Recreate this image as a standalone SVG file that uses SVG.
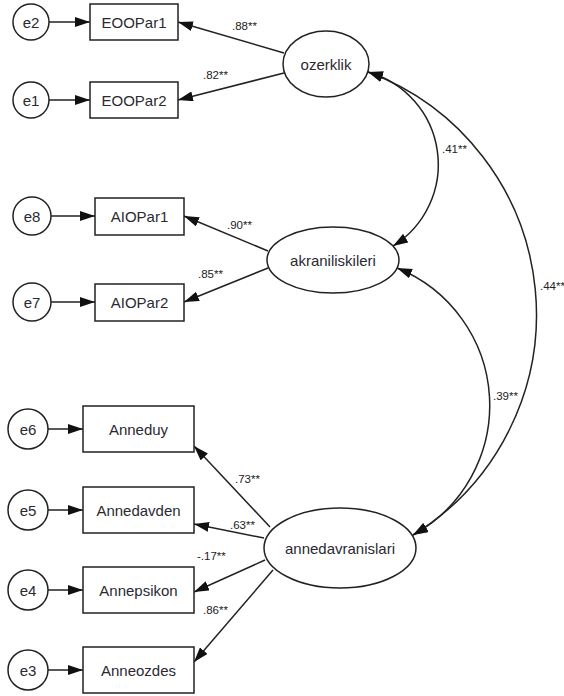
<svg xmlns="http://www.w3.org/2000/svg" width="564" height="696" viewBox="0 0 564 696">
<style>
.box{fill:#fff;stroke:#222;stroke-width:1.5}
.lat{fill:#fff;stroke:#222;stroke-width:1.5}
.t{font-family:"Liberation Sans",Arial,sans-serif;font-size:15px;fill:#2a2a33;text-anchor:middle;dominant-baseline:central}
.lbl{font-family:"Liberation Sans",Arial,sans-serif;font-size:11.5px;fill:#222}
.c{fill:none;stroke:#222;stroke-width:1.5}
</style>
<defs>
<marker id="ah" viewBox="0 0 15 10" refX="15" refY="5" markerWidth="15" markerHeight="10" markerUnits="userSpaceOnUse" orient="auto-start-reverse">
<path d="M0,0 L15,5 L0,10 z" fill="#111"/>
</marker>
</defs>
<rect width="564" height="696" fill="#fff"/>
<g id="connectors">
<line class="c" x1="49" y1="22" x2="90" y2="22" marker-end="url(#ah)"/>
<line class="c" x1="49" y1="100" x2="90" y2="100" marker-end="url(#ah)"/>
<line class="c" x1="51" y1="216" x2="95" y2="216" marker-end="url(#ah)"/>
<line class="c" x1="51" y1="302" x2="95" y2="302" marker-end="url(#ah)"/>
<line class="c" x1="48" y1="429" x2="83" y2="429" marker-end="url(#ah)"/>
<line class="c" x1="48" y1="510" x2="83" y2="510" marker-end="url(#ah)"/>
<line class="c" x1="48" y1="590" x2="83" y2="590" marker-end="url(#ah)"/>
<line class="c" x1="48" y1="670" x2="83" y2="670" marker-end="url(#ah)"/>
<line class="c" x1="284" y1="53" x2="178" y2="22" marker-end="url(#ah)"/>
<line class="c" x1="284" y1="73" x2="178" y2="100" marker-end="url(#ah)"/>
<line class="c" x1="268" y1="251" x2="184" y2="216" marker-end="url(#ah)"/>
<line class="c" x1="268" y1="268" x2="184" y2="302" marker-end="url(#ah)"/>
<line class="c" x1="270" y1="527" x2="194" y2="446" marker-end="url(#ah)"/>
<line class="c" x1="264" y1="538" x2="194" y2="524" marker-end="url(#ah)"/>
<line class="c" x1="265" y1="560" x2="194" y2="592" marker-end="url(#ah)"/>
<line class="c" x1="273" y1="570" x2="194" y2="662" marker-end="url(#ah)"/>
<path class="c" d="M368,72 A96,96 0 0 1 393,246" marker-start="url(#ah)" marker-end="url(#ah)"/>
<path class="c" d="M368,72 A258.7,258.7 0 0 1 413,535" marker-start="url(#ah)" marker-end="url(#ah)"/>
<path class="c" d="M397,268 A148,148 0 0 1 413,535" marker-start="url(#ah)" marker-end="url(#ah)"/>
<text class="lbl" x="232" y="30">.88**</text>
<text class="lbl" x="203" y="79">.82**</text>
<text class="lbl" x="227" y="229">.90**</text>
<text class="lbl" x="198" y="278">.85**</text>
<text class="lbl" x="442" y="153">.41**</text>
<text class="lbl" x="540" y="290">.44**</text>
<text class="lbl" x="493" y="400">.39**</text>
<text class="lbl" x="235" y="483">.73**</text>
<text class="lbl" x="230" y="529">.63**</text>
<text class="lbl" x="197" y="560">-.17**</text>
<text class="lbl" x="203" y="614">.86**</text>
</g>
<g id="e2"><circle class="lat" cx="31" cy="22" r="18"/><text class="t" x="31" y="22">e2</text></g>
<g id="e1"><circle class="lat" cx="31" cy="100" r="18"/><text class="t" x="31" y="100">e1</text></g>
<g id="e8"><circle class="lat" cx="32" cy="216" r="19"/><text class="t" x="32" y="216">e8</text></g>
<g id="e7"><circle class="lat" cx="32" cy="302" r="19"/><text class="t" x="32" y="302">e7</text></g>
<g id="e6"><circle class="lat" cx="28" cy="429" r="20"/><text class="t" x="28" y="429">e6</text></g>
<g id="e5"><circle class="lat" cx="28" cy="510" r="20"/><text class="t" x="28" y="510">e5</text></g>
<g id="e4"><circle class="lat" cx="28" cy="590" r="20"/><text class="t" x="28" y="590">e4</text></g>
<g id="e3"><circle class="lat" cx="28" cy="670" r="20"/><text class="t" x="28" y="670">e3</text></g>
<g id="EOOPar1"><rect class="box" x="90" y="4" width="88" height="36"/><text class="t" x="134" y="22">EOOPar1</text></g>
<g id="EOOPar2"><rect class="box" x="90" y="82" width="88" height="36"/><text class="t" x="134" y="100">EOOPar2</text></g>
<g id="AIOPar1"><rect class="box" x="95" y="198" width="89" height="37"/><text class="t" x="139.5" y="216.5">AIOPar1</text></g>
<g id="AIOPar2"><rect class="box" x="95" y="284" width="89" height="37"/><text class="t" x="139.5" y="302.5">AIOPar2</text></g>
<g id="Anneduy"><rect class="box" x="83" y="406" width="111" height="46"/><text class="t" x="138.5" y="429">Anneduy</text></g>
<g id="Annedavden"><rect class="box" x="83" y="487" width="111" height="46"/><text class="t" x="138.5" y="510">Annedavden</text></g>
<g id="Annepsikon"><rect class="box" x="83" y="567" width="111" height="46"/><text class="t" x="138.5" y="590">Annepsikon</text></g>
<g id="Anneozdes"><rect class="box" x="83" y="647" width="111" height="46"/><text class="t" x="138.5" y="670">Anneozdes</text></g>
<g id="ozerklik"><ellipse class="lat" cx="326" cy="64" rx="43" ry="33"/><text class="t" x="326" y="64">ozerklik</text></g>
<g id="akraniliskileri"><ellipse class="lat" cx="333" cy="260" rx="66" ry="33"/><text class="t" x="333" y="260">akraniliskileri</text></g>
<g id="annedavranislari"><ellipse class="lat" cx="340" cy="548" rx="76" ry="40"/><text class="t" x="340" y="548">annedavranislari</text></g>
</svg>
